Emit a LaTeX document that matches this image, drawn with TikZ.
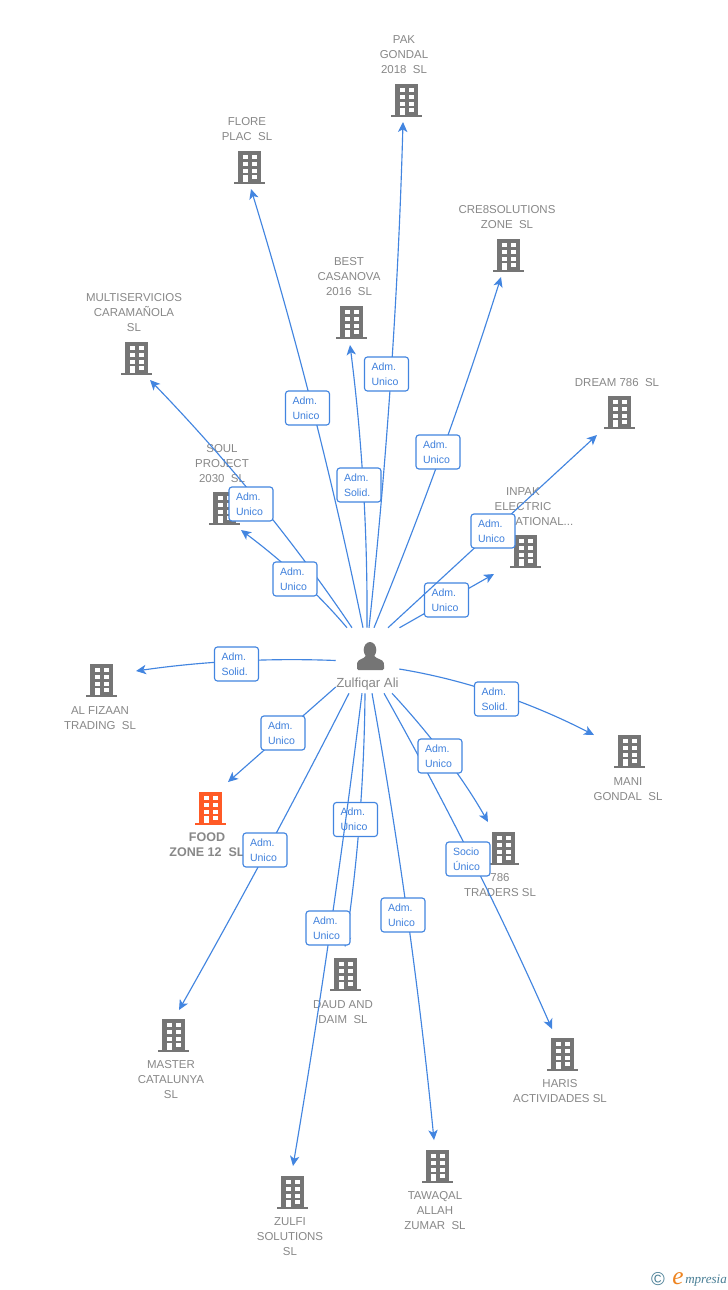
\documentclass[tikz,border=0pt]{standalone}
\usepackage{fontspec}
\setmainfont{Liberation Sans}
\newfontfamily\logofont{Liberation Serif}
\usetikzlibrary{arrows.meta,calc}
\definecolor{linkblue}{HTML}{4285E0}
\definecolor{boxtext}{HTML}{3F80DC}
\definecolor{lblgray}{HTML}{888888}
\definecolor{icongray}{HTML}{757575}
\definecolor{foodred}{HTML}{FF5A26}
\definecolor{logoteal}{HTML}{4A7F96}
\definecolor{logoorange}{HTML}{EE8420}
% quadratic connector: start name, control point, end name
\newcommand\qlink[3]{\draw[link] (#1) .. controls ($(#1)!0.6667!(#2)$) and ($(#3)!0.6667!(#2)$) .. (#3);}
\tikzset{
  x=0.75pt,y=-0.75pt,
  link/.style={draw=linkblue,line width=0.85pt,-{Stealth[length=7.5pt,width=7pt,inset=2pt]}},
  lbl/.style={anchor=north,align=center,inner sep=0pt,text=lblgray,font=\fontsize{8.6}{11.25}\selectfont},
  lblbold/.style={lbl,font=\fontsize{9.4}{11.25}\selectfont\bfseries},
  tag/.style={draw=linkblue,line width=0.85pt,fill=white,rounded corners=2.2pt,minimum width=33pt,minimum height=25.5pt,
     inner xsep=5.25pt,inner ysep=0pt,text width=22.5pt,align=left,text=boxtext,font=\fontsize{7.9}{11.25}\selectfont},
  iconbox/.style={minimum width=24pt,minimum height=25pt,inner sep=0pt},
  personbox/.style={minimum width=47.25pt,minimum height=48.75pt,inner sep=0pt},
  pics/bldg/.style={code={
    \fill[#1] (-11.5,-16.5) rectangle (11.5,14.5);
    \fill[#1] (-15.5,14.5) rectangle (15.5,16.5);
    \foreach \r in {-12.5,-5.2,1.8}{
      \fill[white] (-6.5,\r) rectangle (-1.5,{\r+4.3});
      \fill[white] (2.5,\r) rectangle (7.5,{\r+4.3});
    }
    \fill[white] (-6.5,7.5) rectangle (-1.5,14.5);
    \fill[white] (2.5,7.5) rectangle (7.5,11.8);
  }}
}
\begin{document}
\begin{tikzpicture}
\useasboundingbox (0,0) rectangle (728,1290);
\fill[white] (0,0) rectangle (728,1290);

% buildings
\node[iconbox] (bPak) at (406,100) {};   \pic at (bPak) {bldg=icongray};
\node[iconbox] (bFlore) at (249,167) {}; \pic at (bFlore) {bldg=icongray};
\node[iconbox] (bCre) at (508,255) {};   \pic at (bCre) {bldg=icongray};
\node[iconbox] (bBest) at (351,322) {};  \pic at (bBest) {bldg=icongray};
\node[iconbox] (bMulti) at (136,358) {}; \pic at (bMulti) {bldg=icongray};
\node[iconbox] (bSoul) at (224,508) {};  \pic at (bSoul) {bldg=icongray};
\node[iconbox] (bDream) at (619,412) {}; \pic at (bDream) {bldg=icongray};
\node[iconbox] (bInpak) at (525,551) {}; \pic at (bInpak) {bldg=icongray};
\node[iconbox] (bFiz) at (101,680) {};   \pic at (bFiz) {bldg=icongray};
\node[iconbox] (bFood) at (210,808) {};  \pic at (bFood) {bldg=foodred};
\node[iconbox] (bMani) at (629,751) {};  \pic at (bMani) {bldg=icongray};
\node[iconbox] (bTraders) at (503,848) {}; \pic at (bTraders) {bldg=icongray};
\node[iconbox] (bDaud) at (345,974) {};  \pic at (bDaud) {bldg=icongray};
\node[iconbox] (bMaster) at (173,1035) {}; \pic at (bMaster) {bldg=icongray};
\node[iconbox] (bHaris) at (562,1054) {}; \pic at (bHaris) {bldg=icongray};
\node[iconbox] (bTawaqal) at (437,1166) {}; \pic at (bTawaqal) {bldg=icongray};
\node[iconbox] (bZulfi) at (292,1192) {}; \pic at (bZulfi) {bldg=icongray};

% texts
\node[lbl] (lPak) at (404,35) {PAK\\GONDAL\\2018\ \ SL};
\node[lbl] (lFlore) at (247,117) {FLORE\\PLAC\ \ SL};
\node[lbl] (lCre) at (507,205) {CRE8SOLUTIONS\\ZONE\ \ SL};
\node[lbl] (lBest) at (349,257) {BEST\\CASANOVA\\2016\ \ SL};
\node[lbl] (lMulti) at (134,293) {MULTISERVICIOS\\CARAMAÑOLA\\SL};
\node[lbl] (lSoul) at (222,444) {SOUL\\PROJECT\\2030\ \ SL};
\node[lbl] (lDream) at (617,378) {DREAM 786\ \ SL};
\node[lbl] (lInpak) at (523,487) {INPAK\\ELECTRIC\\INTERNATIONAL...};
\node[lbl] (lFiz) at (100,706) {AL FIZAAN\\TRADING\ \ SL};
\node[lblbold] (lFood) at (207,832) {FOOD\\ZONE 12\ \ SL};
\node[lbl] (lMani) at (628,777) {MANI\\GONDAL\ \ SL};
\node[lbl] (lTraders) at (500,873) {786\\TRADERS SL};
\node[lbl] (lDaud) at (343,1000) {DAUD AND\\DAIM\ \ SL};
\node[lbl] (lMaster) at (171,1060) {MASTER\\CATALUNYA\\SL};
\node[lbl] (lHaris) at (560,1079) {HARIS\\ACTIVIDADES SL};
\node[lbl] (lTawaqal) at (435,1191) {TAWAQAL\\ALLAH\\ZUMAR\ \ SL};
\node[lbl] (lZulfi) at (290,1217) {ZULFI\\SOLUTIONS\\SL};

% person
\node[personbox] (p) at (367.5,660.5) {};
\fill[icongray] (370,650) ellipse [x radius=6.3,y radius=8];
\fill[icongray,rounded corners=1pt] (357,670) -- (357,664) .. controls (358,659) and (364,659) .. (366,655) -- (374,655) .. controls (376,659) and (383,659) .. (384,664) -- (384,670) -- cycle;
\node[lbl,font=\fontsize{9.9}{11.25}\selectfont] (pName) at (367.5,678) {Zulfiqar Ali};

% free ends of the connectors
\coordinate (tPak) at (403,122);
\coordinate (tFlore) at (251,189);
\coordinate (tCre) at (501,277);
\coordinate (tBest) at (350,345);
\coordinate (tMulti) at (150,380);
\coordinate (tSoul) at (241,530);
\coordinate (tDream) at (597,435);
\coordinate (tInpak) at (494,574);
\coordinate (tFiz) at (136,671);
\coordinate (tFood) at (228,782);
\coordinate (tMani) at (594,735);
\coordinate (tTraders) at (488,822);
\coordinate (tDaud) at (345,947);
\coordinate (tMaster) at (179,1010);
\coordinate (tHaris) at (552,1029);
\coordinate (tTawaqal) at (434,1140);
\coordinate (tZulfi) at (293,1166);

% start points on the person's box
\coordinate (sMulti) at ($(p.north)+(-15.5,0)$);
\coordinate (sSoul) at ($(p.north)+(-20.5,0)$);
\coordinate (sFlore) at ($(p.north)+(-4.5,0)$);
\coordinate (sBest) at ($(p.north)+(-0.5,0)$);
\coordinate (sPak) at ($(p.north)+(1.5,0)$);
\coordinate (sCre) at ($(p.north)+(6.5,0)$);
\coordinate (sHaris) at ($(p.south)+(16.5,0)$);
\coordinate (sTraders) at ($(p.south)+(24.5,0)$);
\coordinate (sMaster) at ($(p.south)+(-18.5,0)$);
\coordinate (sDaud) at ($(p.south)+(-2.5,0)$);
\coordinate (sZulfi) at ($(p.south)+(-5.5,0)$);
\coordinate (sTawaqal) at ($(p.south)+(4.5,0)$);
\coordinate (sMani) at ($(p.east)+(0,8.5)$);

% connectors with their tags, in stacking order
\qlink{sMulti}{266,500}{tMulti}
\node[tag] (aMulti) at (251,504) {Adm.\\Unico};
\qlink{sSoul}{305,578}{tSoul}
\node[tag] (aSoul) at (295,579) {Adm.\\Unico};
\qlink{sFlore}{318,408}{tFlore}
\node[tag] (aFlore) at (307.5,408) {Adm.\\Unico};
\qlink{sBest}{368,486}{tBest}
\node[tag] (aBest) at (359,485) {Adm.\\Solid.};
\qlink{sPak}{396,375}{tPak}
\node[tag] (aPak) at (386.5,374) {Adm.\\Unico};
\qlink{sCre}{445,455}{tCre}
\node[tag] (aCre) at (438,452) {Adm.\\Unico};
\draw[link] ($(p.north)+(32,0)$) -- (tInpak);
\node[tag] (aInpak) at (446.5,600) {Adm.\\Unico};
\draw[link] ($(p.north)+(20.5,0)$) -- (tDream);
\node[tag] (aDream) at (493,531) {Adm.\\Unico};
\qlink{p.west}{236,656.5}{tFiz}
\node[tag] (aFiz) at (236.5,664) {Adm.\\Solid.};
\draw[link] ($(p.west)+(0,26.5)$) -- (tFood);
\node[tag] (aFood) at (283,733) {Adm.\\Unico};
\qlink{sMani}{496.5,685}{tMani}
\node[tag] (aMani) at (496.5,699) {Adm.\\Solid.};
\qlink{sHaris}{478,861}{tHaris}
\node[tag] (aHaris) at (468,859) {Socio\\Único};
\qlink{sTraders}{451,757}{tTraders}
\node[tag] (aTraders) at (440,756) {Adm.\\Unico};
\qlink{sMaster}{269,851}{tMaster}
\node[tag] (aMaster) at (265,850) {Adm.\\Unico};
\qlink{sDaud}{364,820}{tDaud}
\node[tag] (aDaud) at (355.5,819.5) {Adm.\\Unico};
\qlink{sZulfi}{333,930}{tZulfi}
\node[tag] (aZulfi) at (328,928) {Adm.\\Unico};
\qlink{sTawaqal}{412,916}{tTawaqal}
\node[tag] (aTawaqal) at (403,915) {Adm.\\Unico};

% logo
\node[inner sep=0pt,text=logoteal,font=\fontsize{14}{14}\selectfont] (logoC) at (658,1279) {©};
\node[inner sep=0pt,anchor=base west,text=logoorange,font=\logofont\itshape\fontsize{19}{19}\selectfont] (logoE) at (672,1284) {e};
\node[inner sep=0pt,anchor=base west,text=logoteal,font=\logofont\itshape\fontsize{9.8}{10}\selectfont] (logoT) at (685,1283) {mpresia};
\end{tikzpicture}
\end{document}
